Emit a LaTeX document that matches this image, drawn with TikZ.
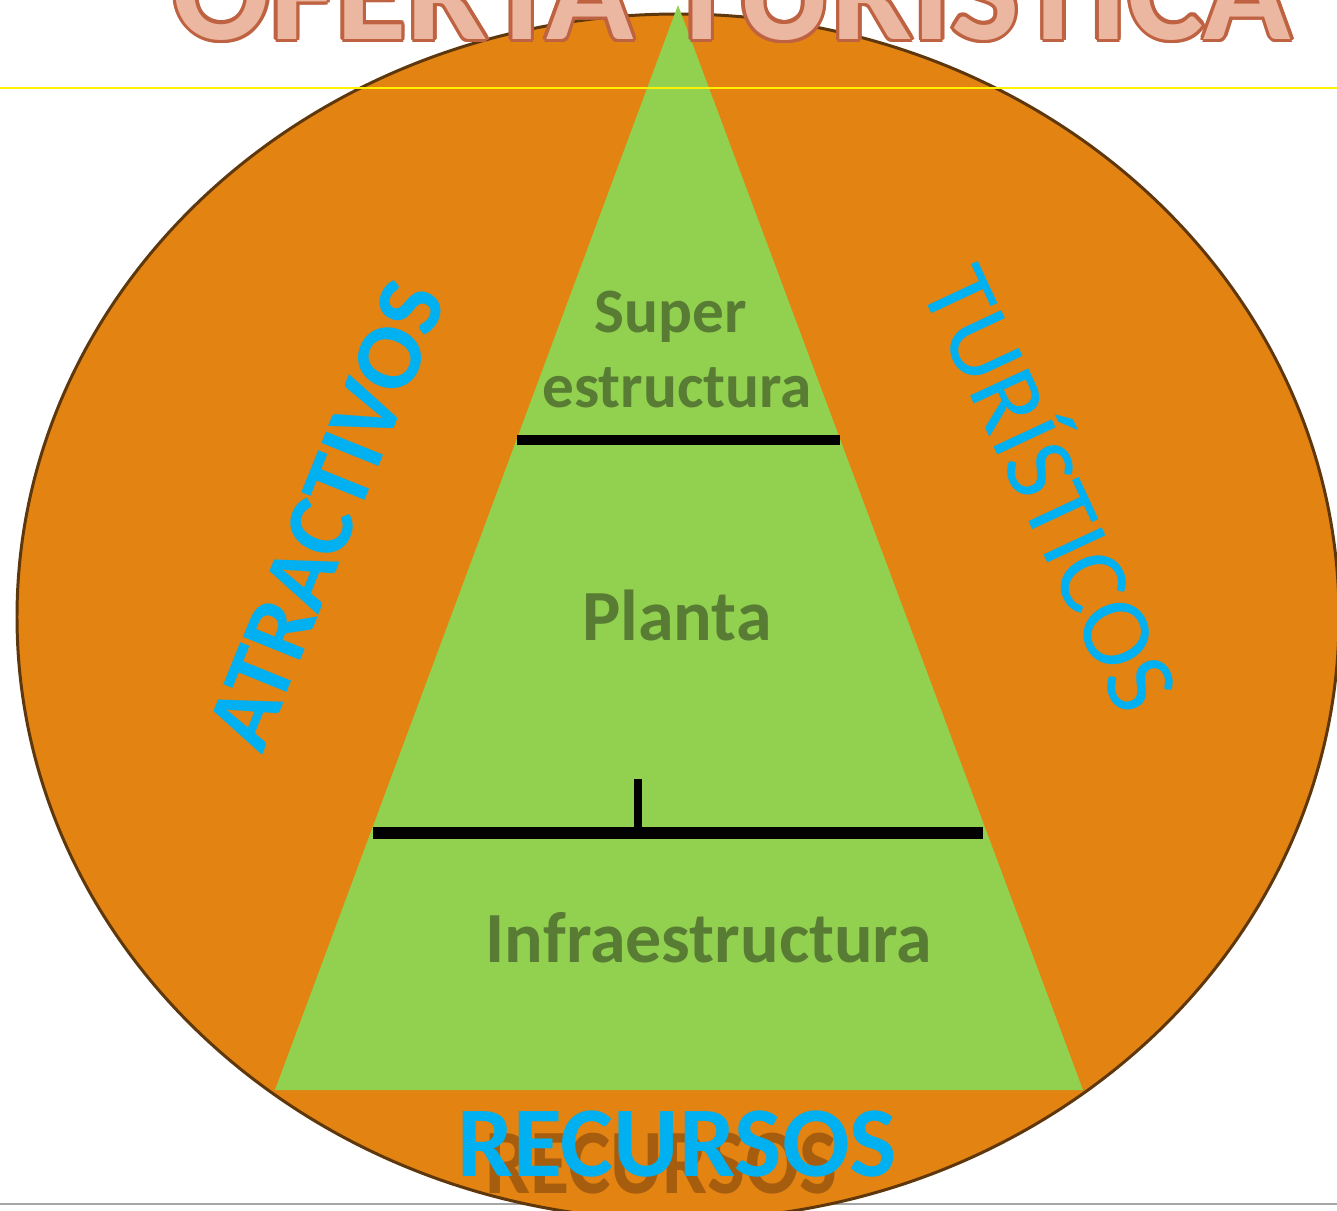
\documentclass[tikz,border=0pt]{standalone}
\usepackage{fontspec}
\setmainfont{Carlito}
\usepackage{xcolor}
\definecolor{naranja}{RGB}{226,131,18}
\definecolor{borde}{RGB}{95,55,12}
\definecolor{verde}{RGB}{146,208,80}
\definecolor{celeste}{RGB}{0,176,240}
\definecolor{capa}{RGB}{88,124,52}
\definecolor{salmon}{RGB}{236,183,160}
\definecolor{ladrillo}{RGB}{190,98,66}
\definecolor{sombra}{RGB}{120,62,12}
\tikzstyle{capa}=[text=capa,font=\bfseries,anchor=base,inner sep=0pt]
\tikzset{rotulo/.style={text=celeste,font=\bfseries\fontsize{54}{60}\selectfont,inner sep=0pt}}
\tikzset{nivel/.style={line width=#1,black}}

\begin{document}
\begin{tikzpicture}[x=0.02cm,y=-0.02cm]
  \useasboundingbox (0,0) rectangle (1337,1210);
  %% background
  \draw[gray!70,line width=0.8pt] (0,1204) -- (1337,1204);
  \draw[fill=naranja,draw=borde,line width=1.7pt] (678,617) ellipse (661 and 603);
  \fill[verde] (678,5) coordinate (cima) -- (275,1090) coordinate (base izq) -- (1083,1090) coordinate (base der) -- cycle;

  %% levels of the pyramid
  \draw[nivel=5.7pt] (517,440) coordinate (S1) -- (840,440) coordinate (S2);
  \draw[nivel=6.8pt] (373,833) coordinate (I1) -- (983,833) coordinate (I2);
  \draw[nivel=4.5pt] (638,836) coordinate (T1) -- (638,779) coordinate (T2);

  \draw (671,332) node[capa,font=\bfseries\fontsize{36}{40}\selectfont] (super) {Super};
  \draw (677,407) node[capa,font=\bfseries\fontsize{36}{40}\selectfont] (estructura) {estructura};
  \draw (677,640) node[capa,font=\bfseries\fontsize{41}{45}\selectfont] (planta) {Planta};
  \draw (709,962) node[capa,font=\bfseries\fontsize{41}{45}\selectfont] (infra) {Infraestructura};

  %% words round the pyramid
  \draw (326,515) node[rotulo,rotate=68] (atractivos) {ATRACTIVOS};
  \draw (1058,486) node[rotulo,rotate=-65,font=\fontsize{57}{62}\selectfont] (turisticos) {TURÍSTICOS};
  \draw (661,1193) node[anchor=base,inner sep=0pt,text=sombra,opacity=0.55,xscale=0.8,yscale=0.92,font=\bfseries\fontsize{57}{62}\selectfont] (sombra) {RECURSOS};
  \draw (677,1176) node[rotulo,anchor=base,font=\bfseries\fontsize{57}{62}\selectfont] (recursos) {RECURSOS};

  %% guide line and title
  \draw[yellow,line width=1.1pt] (0,88) -- (1337,88);
  \foreach \a in {0,30,...,330}
    \draw (732,39) ++(\a:3.5) node[anchor=base,inner sep=0pt,text=ladrillo,font=\bfseries\fontsize{82}{88}\selectfont] {OFERTA TURÍSTICA};
  \draw (732,39) node[anchor=base,inner sep=0pt,text=salmon,font=\bfseries\fontsize{82}{88}\selectfont] (titulo) {OFERTA TURÍSTICA};
\end{tikzpicture}
\end{document}
